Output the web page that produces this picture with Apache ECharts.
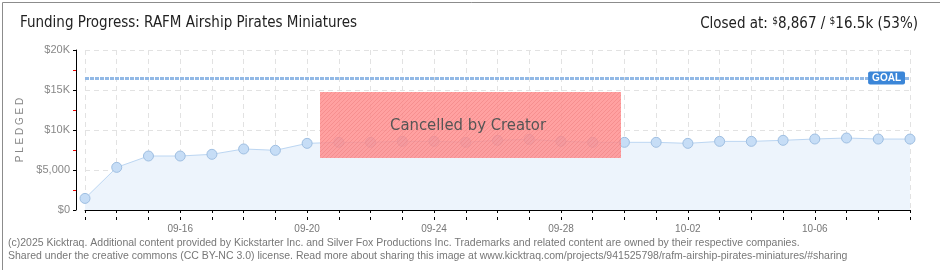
<!DOCTYPE html>
<html><head><meta charset="utf-8">
<script src="https://cdn.jsdelivr.net/npm/echarts@6/dist/echarts.min.js"></script>
<style>html,body{margin:0;padding:0;background:#fff}#c{width:940px;height:270px}</style>
</head><body><div id="c"></div>
<script>
const dates = ['09-13','09-14','09-15','09-16','09-17','09-18','09-19','09-20','09-21','09-22','09-23','09-24','09-25','09-26','09-27','09-28','09-29','09-30','10-01','10-02','10-03','10-04','10-05','10-06','10-07','10-08','10-09'];
const pledged = [1450,5330,6750,6750,6960,7630,7460,8330,8460,8460,8580,8580,8460,8710,8830,8580,8460,8460,8460,8330,8580,8580,8710,8875,9000,8870,8867];
const goal = 16500;
const yTicks = [0,5000,10000,15000,20000];
const yTickLabels = ['$0','$5,000','$10K','$15K','$20K'];
const title = 'Funding Progress: RAFM Airship Pirates Miniatures';
const closedText = ['Closed at: ','$','8,867 / ','$','16.5k (53%)'];
const footer = ['(c)2025 Kicktraq. Additional content provided by Kickstarter Inc. and Silver Fox Productions Inc. Trademarks and related content are owned by their respective companies.',
 'Shared under the creative commons (CC BY-NC 3.0) license. Read more about sharing this image at www.kicktraq.com/projects/941525798/rafm-airship-pirates-miniatures/#sharing'];

// hatch pattern for cancelled box
const pc = document.createElement('canvas'); pc.width = 4; pc.height = 4;
const px = pc.getContext('2d');
px.fillStyle = 'rgba(255,140,140,0.82)'; px.fillRect(0,0,4,4);
px.strokeStyle = 'rgba(230,110,110,0.35)'; px.lineWidth = 1;
px.beginPath(); px.moveTo(0,4); px.lineTo(4,0); px.stroke();

const chart = echarts.init(document.getElementById('c'), null, {renderer:'canvas'});
const axisFont = 'Liberation Sans';
const condFont = '"DejaVu Sans Condensed", "Liberation Sans", sans-serif';
chart.setOption({
  animation: false,
  backgroundColor: '#fff',
  grid: {left: 85, right: 30, top: 50, bottom: 60, containLabel: false},
  xAxis: [{
    type: 'category', data: dates, boundaryGap: false, offset: 10,
    axisLine: {show: true, lineStyle: {color: '#000', width: 1}},
    axisTick: {show: true, interval: 0, length: 3, lineStyle: {color: '#000'}},
    axisLabel: {interval: (i) => (i - 3) % 4 === 0 && i >= 3, color: '#777', fontSize: 10, fontFamily: axisFont, margin: 4},
    splitLine: {show: true, interval: 0, lineStyle: {color: '#e2e2e2', type: [5,4]}}
  },{
    type: 'category', data: dates, boundaryGap: false, offset: 10, position: 'bottom',
    axisLine: {show: false},
    axisTick: {show: true, inside: true, interval: 0, length: 3, lineStyle: {color: '#000'}},
    axisLabel: {show: false}, splitLine: {show: false}
  }],
  yAxis: {
    type: 'value', min: 0, max: 20000, interval: 5000, offset: 9,
    name: 'P L E D G E D', nameLocation: 'middle', nameGap: 50, nameRotate: 90,
    nameTextStyle: {color: '#888', fontSize: 10, fontFamily: axisFont},
    axisLine: {show: true, lineStyle: {color: '#000'}},
    axisTick: {show: true, length: 3, lineStyle: {color: '#000'}},
    minorTick: {show: true, splitNumber: 2, length: 3, lineStyle: {color: '#e00'}},
    axisLabel: {color: '#888', fontSize: 11, fontFamily: axisFont, margin: 6,
      formatter: (v) => { const i = yTicks.indexOf(v); return i >= 0 ? yTickLabels[i] : ''; }},
    splitLine: {show: true, lineStyle: {color: '#e2e2e2', type: [5,4]}}
  },
  series: [{
    type: 'line', data: pledged, symbol: 'circle', symbolSize: 10, z: 2,
    lineStyle: {color: '#bcd6f2', width: 1},
    itemStyle: {color: '#c6ddf6', borderColor: '#9fbfe2', borderWidth: 1},
    areaStyle: {color: '#edf4fc', opacity: 1},
    markLine: {
      silent: true, symbol: 'none', z: 3,
      lineStyle: {color: '#92b9e6', width: 3, type: [4,1]},
      label: {show: true, formatter: 'GOAL', position: 'insideEnd', distance: 5,
        color: '#fff', backgroundColor: '#3b86d8', padding: [2,4,1,4], borderRadius: 2,
        fontSize: 10, fontFamily: axisFont, fontWeight: 'bold'},
      data: [{yAxis: goal}]
    }
  }],
  graphic: [
    {type: 'rect', left: 0, top: 0, z: 100, shape: {x: 0.5, y: 0.5, width: 939, height: 269},
      style: {fill: 'none', stroke: '#8c8c8c', lineWidth: 1}, silent: true},
    {type: 'text', left: 20, top: 16, style: {text: title, fill: '#222', fontSize: 15, fontFamily: condFont}},
    {type: 'text', right: 22, top: 16, style: {
      text: '{a|' + closedText[0] + '}{s|' + closedText[1] + '}{a|' + closedText[2] + '}{s|' + closedText[3] + '}{a|' + closedText[4] + '}',
      rich: {a: {fontSize: 15, fill: '#222', fontFamily: condFont},
             s: {fontSize: 10, fill: '#222', fontFamily: condFont, verticalAlign: 'top', padding: [0,0,7,0]}}}},
    {type: 'rect', z: 10, shape: {x: 320, y: 92, width: 301, height: 66},
      style: {fill: {image: pc, repeat: 'repeat'}}},
    {type: 'text', z: 11, x: 468, y: 126, style: {text: 'Cancelled by Creator', fill: '#555', fontSize: 16.5,
      fontFamily: condFont, align: 'center', verticalAlign: 'middle',
      textShadowColor: 'rgba(255,255,255,0.9)', textShadowOffsetX: 1, textShadowOffsetY: 1, textShadowBlur: 0}},
    {type: 'text', left: 8, top: 238, style: {text: footer[0], fill: '#777', fontSize: 10.5, fontFamily: axisFont}},
    {type: 'text', left: 8, top: 251, style: {text: footer[1], fill: '#777', fontSize: 10.5, fontFamily: axisFont}}
  ]
});
</script></body></html>
